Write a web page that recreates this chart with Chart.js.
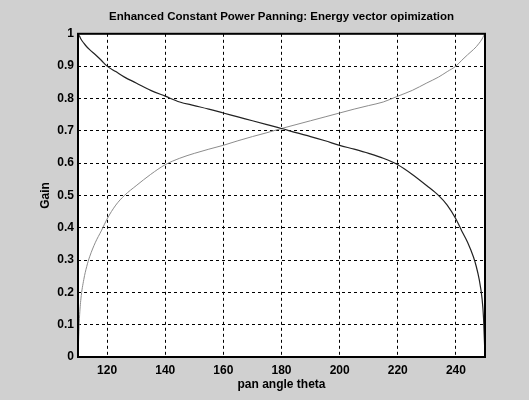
<!DOCTYPE html>
<html>
<head>
<meta charset="utf-8">
<script src="https://cdn.jsdelivr.net/npm/chart.js@4/dist/chart.umd.min.js"></script>
<style>
  html, body { margin: 0; padding: 0; background: #d0d0d0; }
  canvas { display: block; }
</style>
</head>
<body>
<canvas id="panChart" width="529" height="400"></canvas>
<script>
// pan angle (degrees)
const theta = [110, 110.5, 111, 112, 113, 114, 116, 118, 120, 123, 126, 130, 135, 140, 145, 150, 155, 160, 165, 170, 175, 180,
               185, 190, 195, 200, 205, 210, 215, 220, 225, 230, 234, 237, 240, 242, 244, 246, 247, 248, 249, 249.5, 250];

// gain of the falling curve
const gainLeft = [1.0, 0.993, 0.984, 0.971, 0.96, 0.951, 0.935, 0.918, 0.9, 0.883, 0.866, 0.848, 0.825, 0.807, 0.789, 0.778, 0.767, 0.755, 0.743, 0.731, 0.719, 0.707,
                  0.694, 0.682, 0.669, 0.655, 0.643, 0.63, 0.615, 0.595, 0.565, 0.53, 0.5, 0.47, 0.427, 0.39, 0.355, 0.31, 0.28, 0.24, 0.18, 0.12, 0.0];

// gain of the rising curve
const gainRight = [0.0, 0.12, 0.18, 0.24, 0.28, 0.31, 0.355, 0.39, 0.427, 0.47, 0.5, 0.53, 0.565, 0.595, 0.615, 0.63, 0.643, 0.655, 0.669, 0.682, 0.694, 0.707,
                   0.719, 0.731, 0.743, 0.755, 0.767, 0.778, 0.789, 0.807, 0.825, 0.848, 0.866, 0.883, 0.9, 0.918, 0.935, 0.951, 0.96, 0.971, 0.984, 0.993, 1.0];

const xTicks = [120, 140, 160, 180, 200, 220, 240];
const yTicks = [0, 0.1, 0.2, 0.3, 0.4, 0.5, 0.6, 0.7, 0.8, 0.9, 1];

const toPoints = (xs, ys) => xs.map((x, i) => ({ x: x, y: ys[i] }));

// white plot area + black frame (matlab look)
const framePlugin = {
    id: 'frame',
    beforeDraw(chart) {
        const a = chart.chartArea;
        const ctx = chart.ctx;
        ctx.save();
        ctx.fillStyle = '#ffffff';
        ctx.fillRect(a.left, a.top, a.right - a.left, a.bottom - a.top);
        ctx.restore();
    },
    afterDraw(chart) {
        const a = chart.chartArea;
        const ctx = chart.ctx;
        ctx.save();
        ctx.strokeStyle = '#000';
        ctx.lineWidth = 2;
        ctx.strokeRect(a.left, a.top, a.right - a.left, a.bottom - a.top);
        ctx.restore();
    }
};

const tickFont = { family: 'Liberation Sans, Arial, sans-serif', size: 12, weight: 'bold' };

new Chart(document.getElementById('panChart').getContext('2d'), {
    type: 'line',
    data: {
        datasets: [
            {
                data: toPoints(theta, gainLeft),
                borderColor: '#222222',
                borderWidth: 1.2,
                pointRadius: 0,
                cubicInterpolationMode: 'monotone',
                fill: false
            },
            {
                data: toPoints(theta, gainRight),
                borderColor: '#8c8c8c',
                borderWidth: 1,
                pointRadius: 0,
                cubicInterpolationMode: 'monotone',
                fill: false
            }
        ]
    },
    options: {
        responsive: false,
        animation: false,
        layout: { padding: { left: 0, right: 44, top: 0, bottom: 3 } },
        plugins: {
            legend: { display: false },
            tooltip: { enabled: false },
            title: {
                display: true,
                fullSize: false,
                text: 'Enhanced Constant Power Panning: Energy vector opimization',
                color: '#000',
                font: { family: 'Liberation Sans, Arial, sans-serif', size: 11.5, weight: 'bold' },
                padding: { top: 10, bottom: 10 }
            }
        },
        scales: {
            x: {
                type: 'linear',
                min: 110,
                max: 250,
                afterBuildTicks: s => { s.ticks = xTicks.map(v => ({ value: v })); },
                afterFit: s => { s.height = 40; },
                grid: { color: '#000', lineWidth: 1, drawTicks: false },
                border: { display: false, dash: [3, 3] },
                ticks: { color: '#000', font: tickFont, padding: 6, maxRotation: 0, callback: v => String(v) },
                title: {
                    display: true,
                    text: 'pan angle theta',
                    color: '#000',
                    font: tickFont,
                    padding: { top: 0, bottom: 5 }
                }
            },
            y: {
                min: 0,
                max: 1,
                afterBuildTicks: s => { s.ticks = yTicks.map(v => ({ value: v })); },
                afterFit: s => { s.width = 78; },
                grid: { color: '#000', lineWidth: 1, drawTicks: false },
                border: { display: false, dash: [3, 3] },
                ticks: { color: '#000', font: tickFont, padding: 4, callback: v => String(v) },
                title: {
                    display: true,
                    text: 'Gain',
                    color: '#000',
                    font: tickFont,
                    padding: { top: 38, bottom: 0 }
                }
            }
        }
    },
    plugins: [framePlugin]
});
</script>
</body>
</html>
